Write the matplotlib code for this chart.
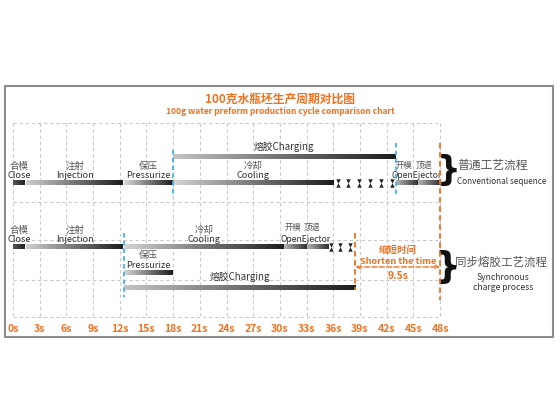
import numpy as np
import matplotlib
matplotlib.use("Agg")
import matplotlib.pyplot as plt
from matplotlib.colors import LinearSegmentedColormap
from matplotlib.patches import Rectangle

# ---------------- data ----------------
tick_values = [0, 3, 6, 9, 12, 15, 18, 21, 24, 27, 30, 33, 36, 39, 42, 45, 48]
tick_labels = ["0s", "3s", "6s", "9s", "12s", "15s", "18s", "21s", "24s", "27s",
               "30s", "33s", "36s", "39s", "42s", "45s", "48s"]

# conventional sequence: (start, end) in seconds
conv_names_cn = ["合模", "注射", "保压", "冷却", "开模", "顶退"]
conv_names_en = ["Close", "Injection", "Pressurize", "Cooling", "Open", "Ejector"]
conv_start = [0.0, 1.5, 12.5, 18.0, 43.0, 45.5]
conv_end = [1.3, 12.4, 18.0, 36.0, 45.5, 48.0]
conv_charge = (18.0, 43.0)
conv_wait = [36.5, 37.7, 38.9, 40.1, 41.4, 42.6]
conv_markers = [18.0, 43.0]

# synchronous charge process
sync_names_cn = ["合模", "注射", "冷却", "开模", "顶退"]
sync_names_en = ["Close", "Injection", "Cooling", "Open", "Ejector"]
sync_start = [0.0, 1.5, 12.5, 30.5, 33.0]
sync_end = [1.3, 12.4, 30.5, 33.0, 35.4]
sync_pressure = (12.5, 18.0)
sync_charge = (12.5, 38.5)
sync_wait = [35.7, 36.8, 37.9]
sync_marker = 12.5

cycle_conv = 48.0
cycle_sync = 38.5
saved = 9.5

ORANGE = "#f0711f"
CYAN = "#3fb6e6"
GRAY_TXT = "#555555"
CJK = ['Noto Sans CJK SC', 'DejaVu Sans']

plt.rcParams['font.family'] = CJK

fig = plt.figure(figsize=(5.6, 4.2), dpi=100)
ax = fig.add_axes([0, 0, 1, 1])

# pixel layout: 0s at px 13, 48s at px 440
PX0, PXS = 13.0, 427.0 / 48.0
def s2x(px):
    return (px - PX0) / PXS

XL, XR = s2x(0), s2x(560)

def gbar(x0, x1, yc, h, c0, c1, z=3):
    grad = np.linspace(0, 1, 256).reshape(1, -1)
    cmap = LinearSegmentedColormap.from_list("g", [c0, c1])
    ax.imshow(grad, extent=[x0, x1, yc + h / 2, yc - h / 2], cmap=cmap,
              aspect='auto', interpolation='bilinear', zorder=z)

# border
fig.add_artist(Rectangle((5 / 560, 1 - 337 / 420), 548 / 560, 251 / 420,
                         transform=fig.transFigure, fill=False,
                         edgecolor="#8c8c8c", lw=1.5))

# grid
GT, GB = 123, 317
for t in tick_values:
    ax.plot([t, t], [GT, GB], color="#c9c9c9", lw=0.8, ls=(0, (3, 2.5)), zorder=1)
for gy in [123, 202, 240, 280, 317]:
    ax.plot([tick_values[0], tick_values[-1]], [gy, gy], color="#c9c9c9",
            lw=0.8, ls=(0, (3, 2.5)), zorder=1)

# tick labels
for t, lab in zip(tick_values, tick_labels):
    ax.text(t, 329, lab, color=ORANGE, fontsize=7.5, ha='center', va='center',
            fontweight='bold')

# titles
ax.text(s2x(280), 100, "100克水瓶坯生产周期对比图", color=ORANGE, fontsize=8.5,
        ha='center', va='center', fontweight='bold')
ax.text(s2x(280), 112, "100g water preform production cycle comparison chart",
        color=ORANGE, fontsize=6.1, ha='center', va='center', fontweight='bold')

cols = {
    "Close": ("#555555", "#222222"),
    "Injection": ("#cfcfcf", "#1c1c1c"),
    "Pressurize": ("#dadada", "#1c1c1c"),
    "Cooling": ("#d4d4d4", "#1c1c1c"),
    "Open": ("#b5b5b5", "#2e2e2e"),
    "Ejector": ("#b5b5b5", "#2e2e2e"),
}

EN_FS = 6.6

def labels(cn, en, xc, ybar):
    ax.text(xc, ybar - 17, cn, fontsize=6.8, color=GRAY_TXT, ha='center', va='center')
    ax.text(xc, ybar - 7, en, fontsize=EN_FS, color="#333333", ha='center', va='center')

def hourglass(xs, y):
    for x in xs:
        ax.plot([x], [y - 2.0], marker='v', ms=3.2, color="#222222", mew=0, zorder=4)
        ax.plot([x], [y + 2.0], marker='^', ms=3.2, color="#222222", mew=0, zorder=4)

# ---------- conventional row ----------
YC = 183
for cn, en, a, b in zip(conv_names_cn, conv_names_en, conv_start, conv_end):
    gbar(a, b, YC, 5, *cols[en])
    if en in ("Open", "Ejector"):
        continue
    labels(cn, en, (a + b) / 2, YC)
oa, ob = conv_start[4], conv_end[4]
ea, eb = conv_start[5], conv_end[5]
ax.text((oa + ob) / 2 - 0.3, YC - 18, "开模", fontsize=6, color=GRAY_TXT, ha='center', va='center')
ax.text((ea + eb) / 2 - 0.6, YC - 18, "顶退", fontsize=6, color=GRAY_TXT, ha='center', va='center')
ax.text(ob - 0.1, YC - 7, "OpenEjector", fontsize=6.2, color="#333333", ha='center', va='center')

gbar(conv_charge[0], conv_charge[1], 157, 5, "#c4c4c4", "#1c1c1c")
ax.text(sum(conv_charge) / 2, 147, "熔胶Charging", fontsize=7, color="#333333",
        ha='center', va='center')
hourglass(conv_wait, YC)
ax.plot([conv_markers[0]] * 2, [150, 197], color=CYAN, lw=1.3, ls=(0, (2.5, 1.8)), zorder=5)
ax.plot([conv_markers[1]] * 2, [143, 196], color=CYAN, lw=1.3, ls=(0, (2.5, 1.8)), zorder=5)
ax.plot([cycle_conv] * 2, [143, 300], color=ORANGE, lw=1.3, ls=(0, (3, 2)), zorder=5)

# ---------- synchronous row ----------
YS = 247
for cn, en, a, b in zip(sync_names_cn, sync_names_en, sync_start, sync_end):
    gbar(a, b, YS, 5, *cols[en])
    if en in ("Open", "Ejector"):
        continue
    labels(cn, en, (a + b) / 2, YS)
oa, ob = sync_start[3], sync_end[3]
ea, eb = sync_start[4], sync_end[4]
ax.text((oa + ob) / 2 - 0.3, YS - 20, "开模", fontsize=6, color=GRAY_TXT, ha='center', va='center')
ax.text((ea + eb) / 2 - 0.6, YS - 20, "顶退", fontsize=6, color=GRAY_TXT, ha='center', va='center')
ax.text(ob - 0.1, YS - 8, "OpenEjector", fontsize=6.2, color="#333333", ha='center', va='center')

gbar(sync_pressure[0], sync_pressure[1], 273, 5, "#d8d8d8", "#1c1c1c")
ax.text(sum(sync_pressure) / 2, 255, "保压", fontsize=6.8, color=GRAY_TXT, ha='center', va='center')
ax.text(sum(sync_pressure) / 2, 265, "Pressurize", fontsize=EN_FS, color="#333333", ha='center', va='center')
gbar(sync_charge[0], sync_charge[1], 288, 5, "#c4c4c4", "#1c1c1c")
ax.text(sum(sync_charge) / 2, 277, "熔胶Charging", fontsize=7, color="#333333", ha='center', va='center')
hourglass(sync_wait, YS)
ax.plot([sync_marker] * 2, [233, 297], color=CYAN, lw=1.3, ls=(0, (2.5, 1.8)), zorder=5)
ax.plot([cycle_sync] * 2, [233, 290], color=ORANGE, lw=1.3, ls=(0, (3, 2)), zorder=5)

# saved-time annotation
ax.annotate("", xy=(cycle_conv, 267), xytext=(cycle_sync, 267),
            arrowprops=dict(arrowstyle='<->', color=ORANGE, lw=1.0, ls='--',
                            shrinkA=0, shrinkB=0, mutation_scale=6), zorder=6)
xm = (cycle_sync + cycle_conv) / 2
ax.text(xm, 250, "缩短时间", fontsize=6.8, color=ORANGE, ha='center', va='center', fontweight='bold')
ax.text(xm, 261, "Shorten the time", fontsize=6.6, color=ORANGE, ha='center', va='center', fontweight='bold')
ax.text(xm, 276, f"{saved}s", fontsize=7.5, color=ORANGE, ha='center', va='center', fontweight='bold')

# braces and right-side labels
ax.text(s2x(449), 171, "}", fontsize=24, color="#111111", ha='center', va='center',
        family=['DejaVu Sans'], fontweight='bold')
ax.text(s2x(447), 267, "}", fontsize=26, color="#111111", ha='center', va='center',
        family=['DejaVu Sans'], fontweight='bold')
ax.text(s2x(457), 165, "普通工艺流程", fontsize=8.5, color=GRAY_TXT, ha='left', va='center')
ax.text(s2x(457), 181, "Conventional sequence", fontsize=5.9, color="#333333", ha='left', va='center')
ax.text(s2x(455), 262, "同步熔胶工艺流程", fontsize=8.3, color=GRAY_TXT, ha='left', va='center')
ax.text(s2x(503), 277, "Synchronous", fontsize=6.2, color="#333333", ha='center', va='center')
ax.text(s2x(503), 287, "charge process", fontsize=6.2, color="#333333", ha='center', va='center')

ax.set_xlim(XL, XR)
ax.set_ylim(420, 0)
ax.axis('off')
fig.savefig("out.png", dpi=100, facecolor="white")
